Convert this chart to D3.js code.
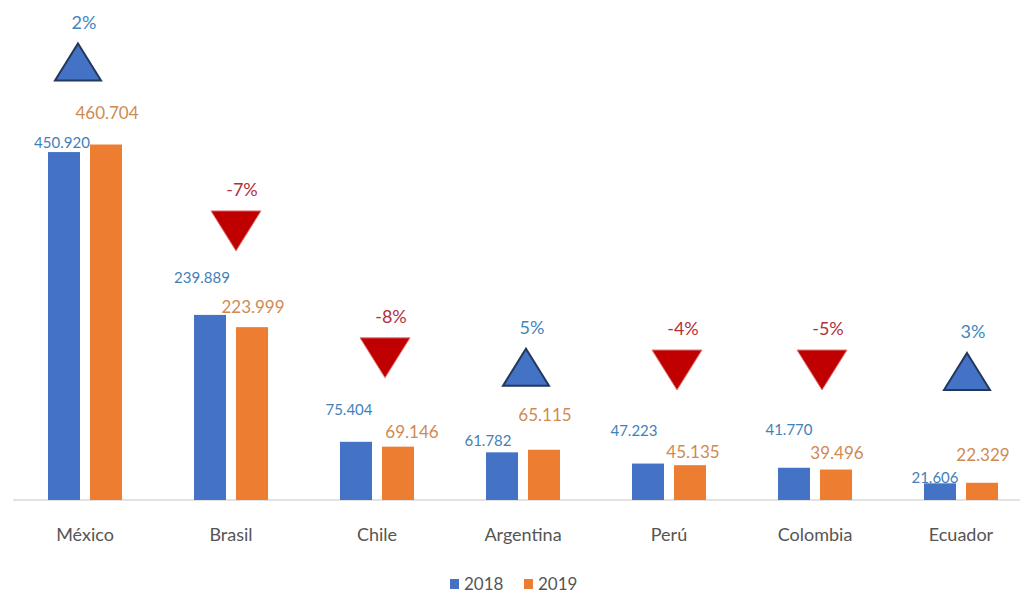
<!DOCTYPE html>
<html>
<head>
<meta charset="utf-8">
<script src="https://cdn.jsdelivr.net/npm/d3@7"></script>
<style>
  html, body { margin: 0; padding: 0; background: #ffffff; }
  svg { display: block; font-family: Lato, "Noto Sans", sans-serif; }
</style>
</head>
<body>
<svg id="chart" width="1027" height="599"></svg>
<script>
// ---- data ----
const categories = ["México", "Brasil", "Chile", "Argentina", "Perú", "Colombia", "Ecuador"];
const seriesNames = ["2018", "2019"];
const values2018 = [450920, 239889, 75404, 61782, 47223, 41770, 21606];
const values2019 = [460704, 223999, 69146, 65115, 45135, 39496, 22329];

// ---- label placement: horizontal nudge and lift above the bar top (px) ----
const labelDx2018   = [-2, -8, -7, -14, -14, -5, -5];
const labelLift2018 = [9, 37, 32, 12, 33, 38, 6];
const labelDx2019   = [1, 1, 14, 1, 3, 1, 1];
const labelLift2019 = [31, 20, 15, 35, 13, 16, 28];
const markerDx      = [-7, 5, 8, 3, 8, 7, 6];

const colors = { "2018": "#4472C4", "2019": "#ED7D31" };
const labelColors = { "2018": "#3F82BA", "2019": "#CF8A52" };

const locale = d3.formatLocale({ decimal: ",", thousands: ".", grouping: [3], currency: ["", ""], minus: "-" });
const fmtValue = locale.format(",d");
const fmtPct = locale.format(".0%");

const rows = categories.map((c, i) => ({
  cat: c, i,
  "2018": values2018[i],
  "2019": values2019[i],
  change: (values2019[i] - values2018[i]) / values2018[i]
}));

const svg = d3.select("#chart");
const W = 1027, H = 599;

const baseY = 500;
const y = d3.scaleLinear().domain([0, 648000]).range([baseY, 0]);

const x0 = d3.scaleBand()
  .domain(categories)
  .range([12, 1034])
  .paddingInner(0.493)
  .paddingOuter(0.2465);

const x1 = d3.scaleBand()
  .domain(seriesNames)
  .range([0, x0.bandwidth()])
  .paddingInner(0.238)
  .paddingOuter(0);

// baseline
svg.append("line")
  .attr("x1", 13).attr("x2", 1020)
  .attr("y1", baseY).attr("y2", baseY)
  .attr("stroke", "#D9D9D9").attr("stroke-width", 1.5);

// bars
const groups = svg.append("g").selectAll("g.grp")
  .data(rows).join("g")
  .attr("class", "grp")
  .attr("transform", d => `translate(${x0(d.cat)},0)`);

groups.selectAll("rect")
  .data(d => seriesNames.map(s => ({ s, v: d[s], i: d.i })))
  .join("rect")
  .attr("x", d => x1(d.s))
  .attr("y", d => y(d.v))
  .attr("width", x1.bandwidth())
  .attr("height", d => baseY - y(d.v))
  .attr("fill", d => colors[d.s]);

// value labels
const lbl = svg.append("g");
rows.forEach(d => {
  const gx = x0(d.cat);
  lbl.append("text")
    .attr("x", gx + x1("2018") + x1.bandwidth() / 2 + labelDx2018[d.i])
    .attr("y", y(d["2018"]) - labelLift2018[d.i])
    .attr("dy", "0.35em")
    .attr("text-anchor", "middle")
    .attr("font-size", 15)
    .attr("fill", labelColors["2018"])
    .text(fmtValue(d["2018"]));
  lbl.append("text")
    .attr("x", gx + x1("2019") + x1.bandwidth() / 2 + labelDx2019[d.i])
    .attr("y", y(d["2019"]) - labelLift2019[d.i])
    .attr("dy", "0.35em")
    .attr("text-anchor", "middle")
    .attr("font-size", 17)
    .attr("fill", labelColors["2019"])
    .text(fmtValue(d["2019"]));
});

// change markers: triangle up (growth) or down (decline) above each group
const mk = svg.append("g");
rows.forEach(d => {
  const cx = x0(d.cat) + x0.bandwidth() / 2 + markerDx[d.i];
  const top = Math.max(d["2018"], d["2019"]);
  const bottom = Math.min(y(top) - 64, baseY - 110);
  const up = d.change >= 0;
  const w = up ? 46 : 50, h = up ? 37 : 40;
  const t = bottom - h;
  const p = d3.path();
  if (up) {
    p.moveTo(cx, t); p.lineTo(cx + w / 2, bottom); p.lineTo(cx - w / 2, bottom); p.closePath();
  } else {
    p.moveTo(cx - w / 2, t); p.lineTo(cx + w / 2, t); p.lineTo(cx, bottom); p.closePath();
  }
  mk.append("path")
    .attr("d", p.toString())
    .attr("fill", up ? "#4472C4" : "#C00000")
    .attr("stroke", up ? "#22385F" : "#E07A7A")
    .attr("stroke-width", up ? 2 : 1)
    .attr("stroke-linejoin", "miter");
  mk.append("text")
    .attr("x", cx + 6)
    .attr("y", t - 21)
    .attr("dy", "0.35em")
    .attr("text-anchor", "middle")
    .attr("font-size", 18)
    .attr("fill", up ? "#3F86BE" : "#B3303A")
    .text(fmtPct(d.change));
});

// category axis labels
svg.append("g").selectAll("text")
  .data(categories).join("text")
  .attr("x", c => x0(c) + x0.bandwidth() / 2)
  .attr("y", 535)
  .attr("dy", "0.35em")
  .attr("text-anchor", "middle")
  .attr("font-size", 18)
  .attr("fill", "#555555")
  .text(c => c);

// legend
const legend = svg.append("g").attr("transform", "translate(450,584)");
const items = legend.selectAll("g").data(seriesNames).join("g")
  .attr("transform", (s, i) => `translate(${i * 74},0)`);
items.append("rect")
  .attr("x", 0).attr("y", -5)
  .attr("width", 9).attr("height", 10)
  .attr("fill", s => colors[s]);
items.append("text")
  .attr("x", 14).attr("y", 0)
  .attr("dy", "0.35em")
  .attr("font-size", 17)
  .attr("fill", "#555555")
  .text(s => s);
</script>
</body>
</html>
